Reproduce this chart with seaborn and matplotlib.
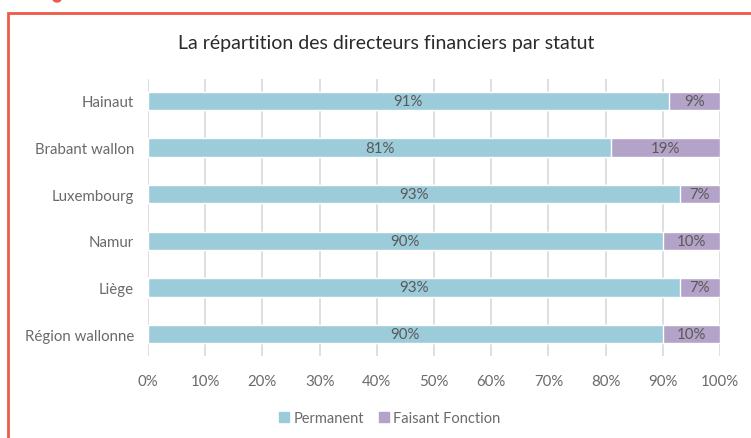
import matplotlib
matplotlib.use("Agg")
import matplotlib.pyplot as plt
import matplotlib.patches as mpatches
import seaborn as sns
import pandas as pd
import numpy as np

regions = ["Hainaut", "Brabant wallon", "Luxembourg", "Namur", "Liège", "Région wallonne"]
permanent = [91, 81, 93, 90, 93, 90]
faisant_fonction = [9, 19, 7, 10, 7, 10]
series_names = ["Permanent", "Faisant Fonction"]
tick_labels = ["0%", "10%", "20%", "30%", "40%", "50%", "60%", "70%", "80%", "90%", "100%"]
title = "La répartition des directeurs financiers par statut"

c_perm = "#9ccbd9"
c_ff = "#b4a3c8"
txt = "#6a6a6a"
lbl = "#595959"

sns.set_theme(style="white")
plt.rcParams['font.family'] = ['Lato', 'DejaVu Sans']

fig = plt.figure(figsize=(7.51, 4.39), dpi=100)
ax = fig.add_axes([148/751, 1-357/439, (720-148)/751, (357-80)/439])

df = pd.DataFrame({"region": regions, "Permanent": permanent, "Faisant Fonction": faisant_fonction})
df["total"] = df["Permanent"] + df["Faisant Fonction"]

sns.barplot(data=df, y="region", x="total", color=c_ff, width=0.39, ax=ax, orient="h", saturation=1)
sns.barplot(data=df, y="region", x="Permanent", color=c_perm, width=0.39, ax=ax, orient="h", saturation=1)

for i, (p, f) in enumerate(zip(permanent, faisant_fonction)):
    ax.text(p/2, i, f"{p}%", ha="center", va="center", fontsize=10.8, color=lbl)
    ax.text(p + f/2, i, f"{f}%", ha="center", va="center", fontsize=10.8, color=lbl)

ax.set_xlim(0, 100)
ax.set_ylim(len(regions) - 0.53, -0.47)
ax.set_xticks(np.arange(0, 101, 10))
ax.set_xticklabels(tick_labels, fontsize=10.8, color=txt)
ax.tick_params(axis="x", length=0, pad=13)
ax.tick_params(axis="y", length=0, pad=10, labelsize=10.8, labelcolor=txt)
ax.set_xlabel("")
ax.set_ylabel("")
for s in ax.spines.values():
    s.set_visible(False)
ax.xaxis.grid(True, color="#d9d9d9", linewidth=1.2)
ax.set_axisbelow(True)

fig.text(386/751, 1-44/439, title, ha="center", va="center", fontsize=14, color="#2a2a2a",
         fontweight="normal")

handles = [mpatches.Patch(color=c_perm, label=series_names[0]),
           mpatches.Patch(color=c_ff, label=series_names[1])]
fig.legend(handles=handles, loc="center", bbox_to_anchor=(390/751, 1-419/439), ncol=2,
           frameon=False, fontsize=10.5, labelcolor=txt, handlelength=0.7, handleheight=0.7,
           handletextpad=0.3, columnspacing=1.0)

red = "#ee5a47"
fig.add_artist(mpatches.Rectangle((8/751, -0.05), 1.1, 0.05 + (1-14/439), transform=fig.transFigure,
                                  fill=False, edgecolor=red, linewidth=2, clip_on=False))
fig.add_artist(mpatches.Ellipse((57/751, 1.0), 8/751, 6/439, transform=fig.transFigure,
                                color=red, clip_on=True))

fig.savefig("out.png", dpi=100, facecolor="white")
